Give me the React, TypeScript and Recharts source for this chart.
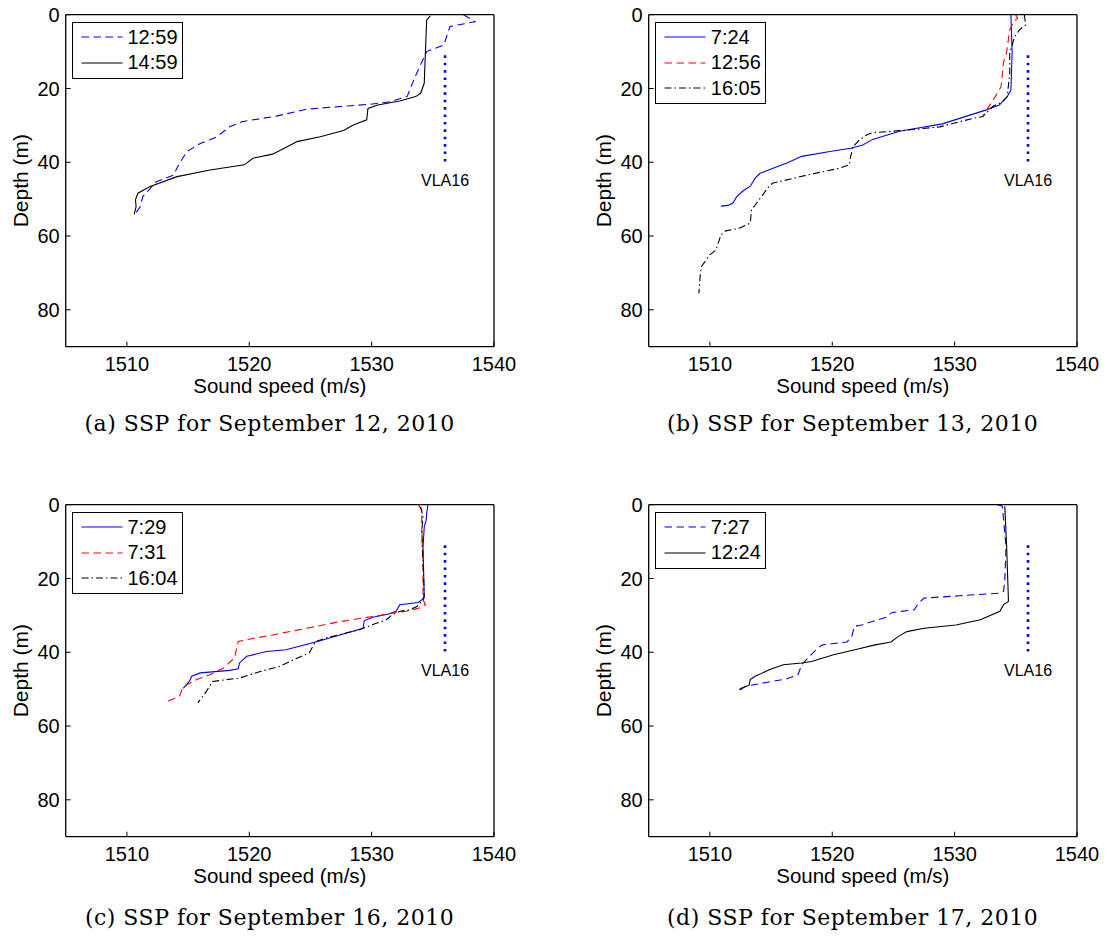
import React from "react"
import { LineChart, Line, XAxis, YAxis, Legend, ReferenceDot } from "recharts"

// axes
const speedDomain = [1505, 1540]
const depthDomain = [0, 90]
const speedTicks = [1510, 1520, 1530, 1540]
const depthTicks = [0, 20, 40, 60, 80]

// VLA16 array position
const vlaSpeed = [1536, 1536]
const vlaDepth = [11, 41]
const vlaLabelDepth = 45

// (a) September 12
const a1259Speed = [1537.5, 1538.45, 1536.4, 1535.9, 1534.5, 1533.55, 1532.9, 1531.5, 1530.1, 1524.7, 1522.2, 1519.4, 1518.4, 1517.3, 1516.0, 1514.9, 1514.3, 1513.8, 1512.4, 1511.3, 1511.1, 1510.7]
const a1259Depth = [0, 1.9, 3.2, 8.2, 10.0, 16.8, 22.2, 23.6, 24.2, 25.6, 27.5, 29.0, 30.4, 33.2, 34.9, 37.1, 40.3, 43.5, 45.3, 49.3, 52.0, 53.9]
const a1459Speed = [1534.8, 1534.5, 1534.4, 1534.3, 1534.0, 1533.6, 1532.3, 1530.5, 1529.7, 1529.6, 1528.5, 1527.7, 1525.8, 1523.9, 1523.1, 1521.9, 1520.3, 1519.6, 1516.8, 1514.1, 1511.9, 1510.9, 1510.7, 1510.75, 1510.6]
const a1459Depth = [0.3, 1.4, 9.6, 18.6, 21.3, 22.2, 23.4, 24.5, 25.4, 28.5, 29.9, 31.4, 33.1, 34.4, 35.8, 37.8, 38.9, 40.7, 42.1, 43.9, 46.6, 48.4, 50.2, 52.0, 54.1]

// (b) September 13
const b0724Speed = [1534.6, 1534.7, 1534.6, 1534.3, 1533.65, 1532.6, 1530.4, 1529.0, 1526.9, 1525.5, 1523.3, 1522.5, 1521.5, 1519.8, 1517.5, 1516.3, 1515.1, 1514.1, 1513.7, 1513.3, 1512.7, 1512.2, 1511.9, 1511.5, 1510.9]
const b0724Depth = [0, 10.2, 20.4, 22.2, 24.5, 25.8, 28.1, 29.6, 30.8, 31.6, 33.8, 35.3, 36.2, 37.1, 38.4, 40.2, 41.7, 43.0, 44.3, 46.5, 47.8, 49.3, 51.0, 51.7, 51.9]
const b1256Speed = [1535.0, 1535.15, 1534.9, 1534.5, 1534.2, 1534.0, 1533.8, 1533.4, 1532.7, 1532.3]
const b1256Depth = [0, 1.0, 1.6, 4.1, 11.4, 12.7, 19.5, 21.8, 25.4, 27.6]
const b1605Speed = [1535.7, 1535.8, 1535.3, 1534.9, 1534.5, 1534.5, 1534.3, 1533.9, 1533.1, 1532.3, 1531.5, 1528.8, 1526.0, 1523.3, 1522.8, 1522.2, 1521.7, 1521.5, 1521.4, 1520.6, 1517.9, 1515.1, 1514.7, 1513.7, 1513.4, 1513.3, 1512.4, 1511.3, 1510.9, 1510.5, 1510.0, 1509.3, 1509.2, 1509.1]
const b1605Depth = [0, 2.8, 4.1, 6.0, 10.5, 15.9, 22.2, 23.6, 24.9, 27.6, 28.1, 30.4, 31.3, 32.0, 32.6, 34.0, 35.8, 38.5, 40.7, 41.6, 43.5, 45.7, 47.1, 51.6, 52.9, 56.5, 57.9, 58.6, 59.7, 63.8, 65.1, 68.3, 71.0, 75.5]

// (c) September 16
const c0729Speed = [1534.6, 1534.5, 1534.46, 1534.3, 1534.2, 1534.3, 1533.8, 1532.3, 1532.0, 1531.3, 1530.1, 1529.4, 1529.3, 1527.4, 1525.8, 1523.0, 1521.4, 1519.8, 1519.2, 1519.1, 1518.4, 1516.0, 1515.3, 1515.1, 1514.6]
const c0729Depth = [0, 2.3, 4.1, 6.0, 11.4, 25.3, 26.5, 27.1, 28.9, 29.7, 30.5, 31.4, 33.5, 35.3, 36.9, 39.3, 39.8, 41.1, 42.9, 44.5, 44.9, 45.6, 46.5, 47.9, 49.8]
const c0731Speed = [1533.8, 1534.1, 1534.1, 1534.2, 1534.2, 1534.4, 1533.9, 1532.8, 1532.3, 1530.1, 1527.4, 1524.7, 1521.9, 1519.8, 1519.1, 1519.0, 1518.8, 1518.4, 1517.9, 1516.8, 1515.7, 1514.9, 1514.5, 1514.3, 1513.8, 1513.1]
const c0731Depth = [0, 1.4, 6.9, 15.9, 25.8, 27.1, 28.0, 28.9, 29.1, 30.3, 31.7, 33.5, 35.3, 36.6, 37.1, 38.4, 41.6, 42.7, 44.3, 46.1, 47.4, 48.8, 50.1, 51.9, 52.7, 53.5]
const c1604Speed = [1534.0, 1534.2, 1534.1, 1534.2, 1534.3, 1534.2, 1533.7, 1533.1, 1532.3, 1531.7, 1531.2, 1530.1, 1529.0, 1527.9, 1526.3, 1525.4, 1525.2, 1524.9, 1523.9, 1522.5, 1520.9, 1519.2, 1517.0, 1516.5, 1516.1, 1515.8]
const c1604Depth = [0.5, 3.2, 6.9, 15.0, 24.4, 25.8, 27.6, 28.5, 28.9, 29.8, 31.2, 32.5, 33.9, 34.8, 36.1, 37.1, 38.4, 40.2, 41.6, 43.8, 45.2, 47.0, 47.9, 50.6, 52.4, 53.7]

// (d) September 17
const d0727Speed = [1533.5, 1533.9, 1534.0, 1534.2, 1534.1, 1534.0, 1533.6, 1530.4, 1527.5, 1527.0, 1526.7, 1524.9, 1524.4, 1522.4, 1521.8, 1521.6, 1521.2, 1519.2, 1518.8, 1518.0, 1517.5, 1517.2, 1516.3, 1514.6, 1512.9, 1512.2]
const d0727Depth = [0, 0.4, 4.1, 11.4, 20.4, 23.5, 24.0, 24.7, 25.3, 26.9, 28.5, 29.2, 30.5, 32.6, 33.0, 35.7, 37.2, 38.0, 38.9, 41.6, 43.4, 46.1, 47.2, 48.2, 49.2, 51.0]
const d1224Speed = [1534.1, 1534.25, 1534.4, 1534.0, 1533.7, 1532.1, 1530.1, 1527.5, 1526.1, 1525.4, 1524.8, 1523.5, 1522.1, 1520.1, 1518.3, 1517.5, 1516.0, 1514.9, 1513.7, 1513.3, 1513.2, 1512.6, 1512.4]
const d1224Depth = [0.4, 11.4, 26.2, 27.1, 28.9, 31.2, 32.6, 33.5, 34.4, 35.7, 37.2, 38.0, 39.1, 40.7, 42.5, 42.9, 43.4, 44.7, 46.5, 47.4, 49.0, 49.7, 50.1]

const FONT = "'Liberation Sans', Arial, Helvetica, sans-serif"
const DASH = "7.5 4.5"
const DASHDOT = "7 3 1.5 3"

type Series = { name: string; speed: number[]; depth: number[]; color: string; dash?: string }

const toPoints = (speed: number[], depth: number[]) => speed.map((s, i) => ({ s, d: depth[i] }))

const panels: { id: string; left: number; top: number; caption: string; captionY: number; series: Series[] }[] = [
  {
    id: "a", left: 0, top: 0, caption: "(a) SSP for September 12, 2010", captionY: 31,
    series: [
      { name: "12:59", speed: a1259Speed, depth: a1259Depth, color: "#0000ff", dash: DASH },
      { name: "14:59", speed: a1459Speed, depth: a1459Depth, color: "#000000" },
    ],
  },
  {
    id: "b", left: 583.3, top: 0, caption: "(b) SSP for September 13, 2010", captionY: 31,
    series: [
      { name: "7:24", speed: b0724Speed, depth: b0724Depth, color: "#0000ff" },
      { name: "12:56", speed: b1256Speed, depth: b1256Depth, color: "#ff0000", dash: DASH },
      { name: "16:05", speed: b1605Speed, depth: b1605Depth, color: "#000000", dash: DASHDOT },
    ],
  },
  {
    id: "c", left: 0, top: 490, caption: "(c) SSP for September 16, 2010", captionY: 35,
    series: [
      { name: "7:29", speed: c0729Speed, depth: c0729Depth, color: "#0000ff" },
      { name: "7:31", speed: c0731Speed, depth: c0731Depth, color: "#ff0000", dash: DASH },
      { name: "16:04", speed: c1604Speed, depth: c1604Depth, color: "#000000", dash: DASHDOT },
    ],
  },
  {
    id: "d", left: 583.3, top: 490, caption: "(d) SSP for September 17, 2010", captionY: 35,
    series: [
      { name: "7:27", speed: d0727Speed, depth: d0727Depth, color: "#0000ff", dash: DASH },
      { name: "12:24", speed: d1224Speed, depth: d1224Depth, color: "#000000" },
    ],
  },
]

function LegendBox({ series }: { series: Series[] }) {
  return (
    <div style={{ border: "1.3px solid #000", background: "#fff", padding: "2px 0", width: 111, boxSizing: "border-box" }}>
      {series.map((s) => (
        <div key={s.name} style={{ display: "flex", alignItems: "center", height: 25.5 }}>
          <svg width={55} height={10} style={{ flex: "none" }}>
            <line x1={8.5} x2={49.5} y1={5} y2={5} stroke={s.color} strokeWidth={1.1} strokeDasharray={s.dash} />
          </svg>
          <span style={{ fontFamily: FONT, fontSize: 20, color: "#000", lineHeight: "25.5px" }}>{s.name}</span>
        </div>
      ))}
    </div>
  )
}

function SspPanel({ panel }: { panel: (typeof panels)[number] }) {
  const axisLine = { stroke: "#000", strokeWidth: 1.3 }
  const tickLine = { stroke: "#000", strokeWidth: 1 }
  const tickFont = { fill: "#000", fontSize: 20, fontFamily: FONT }
  return (
    <div style={{ position: "absolute", left: panel.left, top: panel.top, width: 520, height: 446 }}>
      <LineChart width={520} height={400} margin={{ top: 13.7, right: 25, bottom: 3.3, left: 5.7 }}>
        <XAxis
          xAxisId="bottom" dataKey="s" type="number" domain={speedDomain} ticks={speedTicks} interval={0}
          allowDataOverflow height={50} tickSize={-5} tickMargin={15}
          axisLine={axisLine} tickLine={tickLine} tick={tickFont}
          label={{ value: "Sound speed (m/s)", position: "insideBottom", offset: 4, fill: "#000", fontSize: 20.5, fontFamily: FONT }}
        />
        <XAxis
          xAxisId="top" orientation="top" dataKey="s" type="number" domain={speedDomain} ticks={speedTicks} interval={0}
          allowDataOverflow height={1} tickSize={-5} axisLine={axisLine} tickLine={tickLine} tick={false}
        />
        <YAxis
          yAxisId="left" type="number" domain={depthDomain} ticks={depthTicks} interval={0} reversed
          allowDataOverflow width={60} tickSize={-5} tickMargin={11}
          axisLine={axisLine} tickLine={tickLine} tick={tickFont}
          label={{ value: "Depth (m)", angle: -90, position: "center", dx: -14.7, fill: "#000", fontSize: 21, fontFamily: FONT }}
        />
        <YAxis
          yAxisId="right" orientation="right" type="number" domain={depthDomain} ticks={depthTicks} interval={0} reversed
          allowDataOverflow width={1} tickSize={-5} axisLine={axisLine} tickLine={tickLine} tick={false}
        />
        {panel.series.map((s) => (
          <Line
            key={s.name} xAxisId="bottom" yAxisId="left" data={toPoints(s.speed, s.depth)} dataKey="d" name={s.name}
            type="linear" stroke={s.color} strokeWidth={1.1} strokeDasharray={s.dash} dot={false} activeDot={false}
            isAnimationActive={false}
          />
        ))}
        <Line
          xAxisId="top" yAxisId="right" data={toPoints(vlaSpeed, vlaDepth)} dataKey="d" name="VLA16" legendType="none"
          type="linear" stroke="#0000ff" strokeWidth={2.6} strokeDasharray="2.6 4.8" dot={false} activeDot={false}
          isAnimationActive={false}
        />
        <ReferenceDot
          xAxisId="bottom" yAxisId="left" x={vlaSpeed[0]} y={vlaLabelDepth} r={0} stroke="none" fill="none"
          label={{ value: "VLA16", position: "center", fill: "#000", fontSize: 16, fontFamily: FONT }}
        />
        <Legend
          layout="vertical" align="center" verticalAlign="middle"
          wrapperStyle={{ left: 71.5, top: 21.5, width: 111 }}
          content={() => <LegendBox series={panel.series} />}
        />
      </LineChart>
      <svg width={520} height={46} style={{ position: "absolute", left: 0, top: 400 }}>
        <text x={269.6} y={panel.captionY} textAnchor="middle" fontFamily="'DejaVu Serif', serif" fontSize={22} letterSpacing={0.5} fill="#000">
          {panel.caption}
        </text>
      </svg>
    </div>
  )
}

export default function App() {
  return (
    <div style={{ position: "absolute", left: 0, top: 0, width: 1107, height: 936, background: "#fff", overflow: "hidden" }}>
      {panels.map((p) => (
        <SspPanel key={p.id} panel={p} />
      ))}
    </div>
  )
}
